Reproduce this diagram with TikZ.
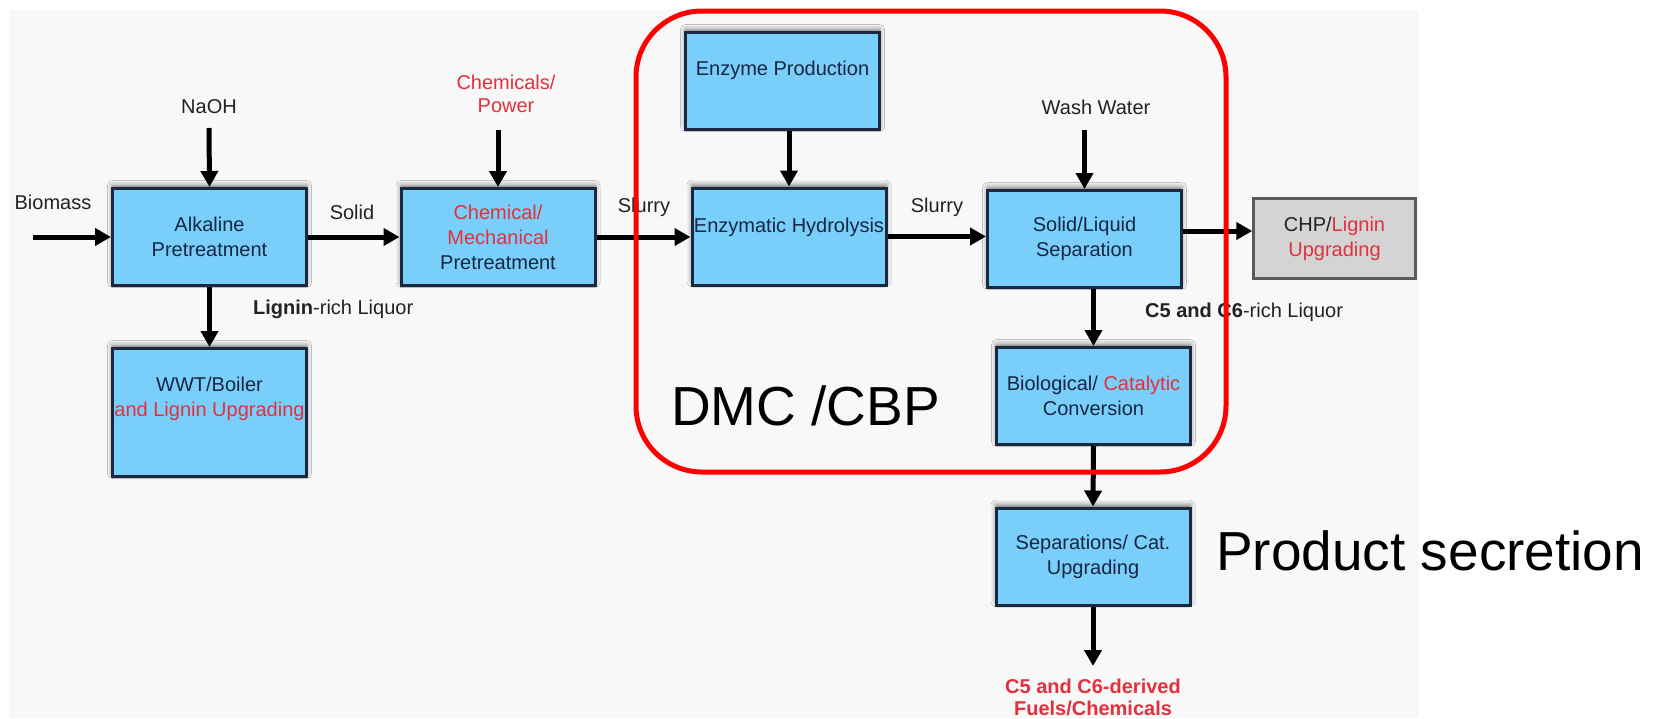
\documentclass[tikz,border=0pt]{standalone}
\usepackage{fontspec}
\setmainfont{Liberation Sans}
\usetikzlibrary{arrows.meta,shadows.blur}

\definecolor{boxfill}{RGB}{122,206,250}
\definecolor{boxline}{RGB}{26,40,64}
\definecolor{boxtext}{RGB}{22,38,68}
\definecolor{labeltext}{RGB}{34,34,34}
\definecolor{accent}{RGB}{228,48,60}
\definecolor{paper}{RGB}{248,248,248}
\definecolor{chpfill}{RGB}{212,212,212}
\definecolor{chpline}{RGB}{90,90,90}
\definecolor{frame}{RGB}{255,0,0}

% raise a two-line block inside a box by #1
\newcommand{\liftedpair}[3]{\raisebox{#1}[0pt][0pt]{\begin{tabular}{@{}c@{}}#2\\#3\end{tabular}}}

\begin{document}
\begin{tikzpicture}[x=1pt,y=-1pt,
  procbox/.style={draw=boxline, line width=3pt, fill=boxfill, text=boxtext,
    align=center, inner sep=0pt, font=\fontsize{20}{25}\selectfont,
    minimum width=194pt, minimum height=97pt,
    blur shadow={shadow xshift=0pt, shadow yshift=3pt, shadow blur radius=5pt, shadow opacity=55}},
  sidebox/.style={draw=chpline, line width=2.5pt, fill=chpfill, text=labeltext,
    align=center, inner sep=0pt, font=\fontsize{20}{25}\selectfont,
    minimum width=162pt, minimum height=80pt},
  flow/.style={line width=5pt, -{Triangle[length=16pt,width=17pt]}},
  tag/.style={text=labeltext, font=\fontsize{20}{23}\selectfont, inner sep=0pt, align=center},
  big/.style={font=\fontsize{55}{60}\selectfont, inner sep=0pt, anchor=base west, text=black},
]
\useasboundingbox (0,0) rectangle (1660,718);
\fill[white] (0,0) rectangle (1660,718);
\fill[paper] (9,10) rectangle (1419,718);

% process units
\node[procbox] (alk) at (209.5,237) {Alkaline\\Pretreatment};
\node[procbox] (chem) at (498,237) {{\color{accent}Chemical/}\\{\color{accent}Mechanical}\\Pretreatment};
\node[procbox, minimum height=128pt] (wwt) at (209.5,412.5)
  {\liftedpair{8pt}{WWT/Boiler}{{\color{accent}and Lignin Upgrading}}};
\node[procbox] (enzp) at (782.5,81) {\raisebox{6pt}[0pt][0pt]{Enzyme Production}};
\node[procbox] (hyd) at (789,236.5) {\raisebox{4.5pt}[0pt][0pt]{Enzymatic Hydrolysis}};
\node[procbox] (sep) at (1084.5,239) {Solid/Liquid\\Separation};
\node[procbox] (bio) at (1093.5,396) {Biological/ {\color{accent}Catalytic}\\Conversion};
\node[procbox] (upg) at (1093,556.5) {Separations/ Cat.\\Upgrading};
\node[sidebox] (chp) at (1334.5,238.5) {CHP/{\color{accent}Lignin}\\{\color{accent}Upgrading}};

% feed and product labels
\node[tag] (biomass) at (53,202) {Biomass};
\node[tag] (naoh) at (209,107) {NaOH};
\node[tag, text=accent, font=\fontsize{20}{23}\selectfont] (power) at (506,93.5) {Chemicals/\\Power};
\node[tag] (wash) at (1096,107) {Wash Water};
\node[tag] (solid) at (352,212) {Solid};
\node[tag] (slurrya) at (644,207) {Slurry};
\node[tag] (slurryb) at (937,207) {Slurry};
\node[tag, anchor=west] (lliq) at (253,309) {\textbf{Lignin}-rich Liquor};
\node[tag, anchor=west] (cliq) at (1145,312) {\textbf{C5 and C6}-rich Liquor};
\node[tag, text=accent, font=\bfseries\fontsize{20}{22}\selectfont] (fuels) at (1093,697)
  {C5 and C6-derived\\Fuels/Chemicals};

% free ends of the feed and product streams
\coordinate (biomassin) at (33,237);
\coordinate (naohin) at (209,128);
\coordinate (powerin) at (498,130);
\coordinate (washin) at (1084.5,130);
\coordinate (fuelsout) at (1093,666);

% streams
\draw[flow] (biomassin) -- (alk.west);
\draw[flow] (naohin) -- (alk.north);
\draw[flow] (powerin) -- (chem.north);
\draw[flow] (alk.east) -- (chem.west);
\draw[flow] (alk.south) -- (wwt.north);
\draw[flow] (chem.east) -- (chem.east -| hyd.west);
\draw[flow] (hyd.north |- enzp.south) -- (hyd.north);
\draw[flow] (hyd.east) -- (hyd.east -| sep.west);
\draw[flow] (washin) -- (sep.north);
\draw[flow] ([yshift=8pt]sep.east) -- ([yshift=8pt]sep.east -| chp.west);
\draw[flow] (bio.north |- sep.south) -- (bio.north);
\draw[flow] (bio.south) -- (upg.north);
\draw[flow] (upg.south) -- (fuelsout);

% process-integration boundary
\draw[frame, line width=5pt, rounded corners=66pt] (636,11) rectangle (1226,472);
\node[big] (dmc) at (671,425) {DMC /CBP};
\node[big] (secretion) at (1216,570) {Product secretion};
\end{tikzpicture}
\end{document}
